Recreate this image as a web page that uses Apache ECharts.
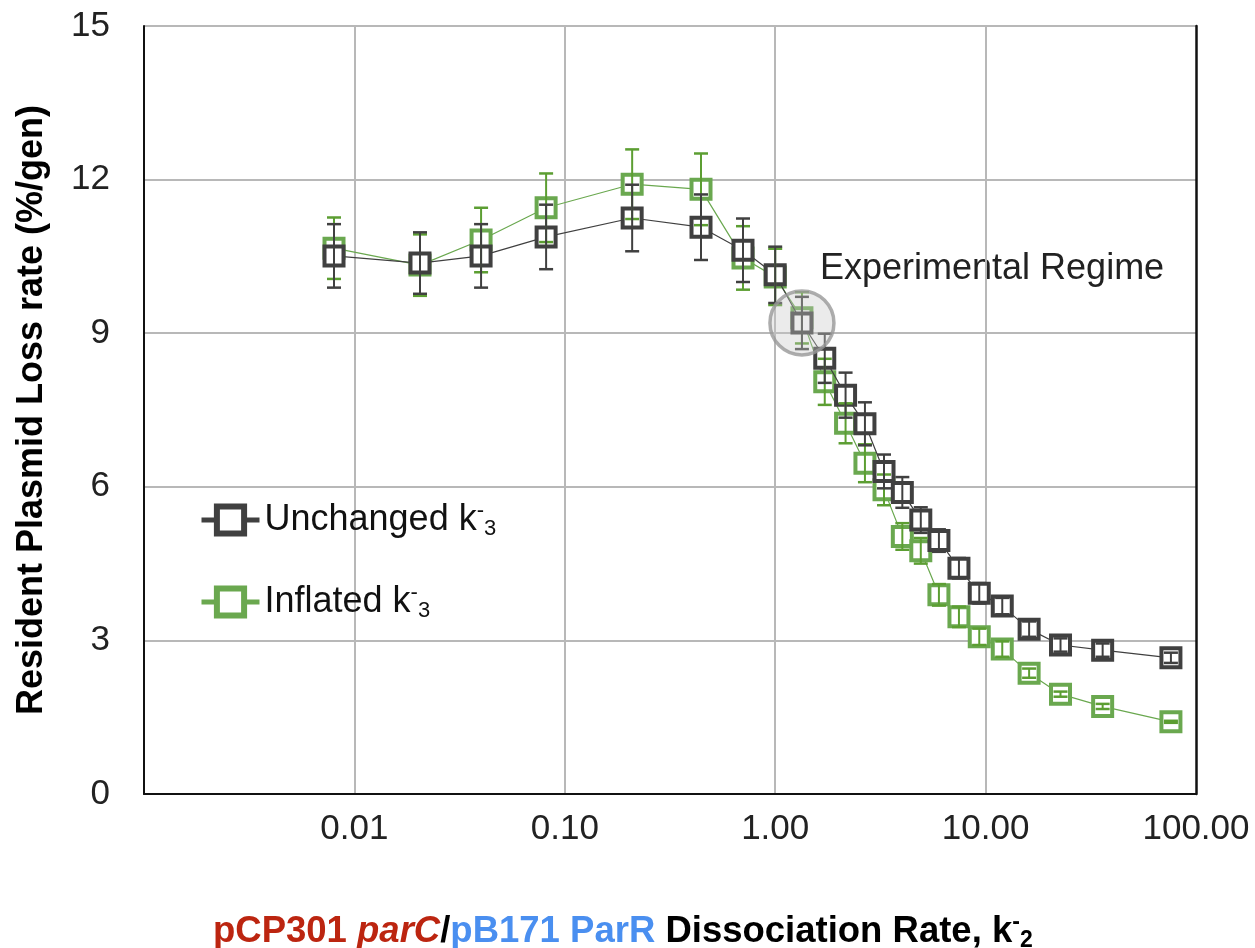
<!DOCTYPE html>
<html>
<head>
<meta charset="utf-8">
<script src="https://cdn.jsdelivr.net/npm/echarts@6/dist/echarts.min.js"></script>
<style>
  html, body { margin: 0; padding: 0; background: #fff; }
  #chart { width: 1255px; height: 948px; }
</style>
</head>
<body>
<div id="chart"></div>
<script>
// k-2 values (x), shared by both series
const rates = [0.008, 0.0205, 0.040, 0.0815, 0.209, 0.444, 0.703, 1.0, 1.34, 1.72, 2.16, 2.67,
  3.29, 4.02, 4.92, 6.0, 7.47, 9.33, 12.0, 16.1, 22.7, 36.0, 76.0];
const unchanged = [10.51, 10.37, 10.51, 10.88, 11.25, 11.07, 10.62, 10.14, 9.2, 8.51, 7.79, 7.23,
  6.30, 5.89, 5.35, 4.95, 4.41, 3.92, 3.67, 3.22, 2.91, 2.81, 2.66];
const unchangedErr = [0.62, 0.6, 0.62, 0.63, 0.65, 0.64, 0.62, 0.55, 0.51, 0.48, 0.44, 0.42,
  0.33, 0.3, 0.25, 0.22, 0.2, 0.2, 0.16, 0.15, 0.13, 0.13, 0.1];
const inflated = [10.66, 10.33, 10.82, 11.45, 11.91, 11.81, 10.47, 10.1, 9.3, 8.05, 7.24, 6.46,
  5.94, 5.03, 4.75, 3.89, 3.46, 3.07, 2.83, 2.36, 1.95, 1.71, 1.41];
const inflatedErr = [0.6, 0.6, 0.63, 0.67, 0.68, 0.7, 0.62, 0.55, 0.5, 0.45, 0.39, 0.37,
  0.3, 0.26, 0.25, 0.21, 0.2, 0.16, 0.15, 0.09, 0.05, 0.05, 0.02];
const regimePoint = [[1.34, 9.2]];
const xTicks = [0.01, 0.1, 1, 10, 100];

const FONT = "'Liberation Sans', Arial, sans-serif";
const DARK = '#404040';
const GREEN = '#6aa84f';
const GREEN_BAR = '#5c9e32';

function pairs(ys) {
  return rates.map((x, i) => [x, ys[i]]);
}
function bars(ys, errs) {
  return rates.map((x, i) => [x, ys[i] - errs[i], ys[i] + errs[i]]);
}
function errorRender(color) {
  return function (params, api) {
    const lo = api.coord([api.value(0), api.value(1)]);
    const hi = api.coord([api.value(0), api.value(2)]);
    const w = 7;
    return {
      type: 'group',
      children: [
        { type: 'line', shape: { x1: lo[0], y1: lo[1], x2: hi[0], y2: hi[1] }, style: { stroke: color, lineWidth: 2 } },
        { type: 'line', shape: { x1: lo[0] - w, y1: lo[1], x2: lo[0] + w, y2: lo[1] }, style: { stroke: color, lineWidth: 2.5 } },
        { type: 'line', shape: { x1: hi[0] - w, y1: hi[1], x2: hi[0] + w, y2: hi[1] }, style: { stroke: color, lineWidth: 2.5 } }
      ]
    };
  };
}

const chart = echarts.init(document.getElementById('chart'));
chart.setOption({
  animation: false,
  textStyle: { fontFamily: FONT },
  grid: { left: 144, right: 59, top: 26, bottom: 154 },
  legend: {
    orient: 'vertical',
    left: 194,
    top: 495,
    itemWidth: 58,
    itemHeight: 34,
    itemGap: 42,
    data: ['Unchanged', 'Inflated'],
    lineStyle: { width: 5 },
    itemStyle: { borderWidth: 6 },
    formatter: function (name) {
      return name + ' k{sup|-}{sub|3}';
    },
    textStyle: {
      fontSize: 36,
      color: '#111',
      fontFamily: FONT,
      rich: {
        sup: { fontSize: 22, verticalAlign: 'top', padding: [0, 0, 18, 0], color: '#111' },
        sub: { fontSize: 22, padding: [18, 0, 0, 0], color: '#111' }
      }
    }
  },
  xAxis: {
    type: 'log',
    logBase: 10,
    min: 0.001,
    max: 100,
    axisLine: { show: true, lineStyle: { color: '#111', width: 2 } },
    axisTick: { show: false },
    axisLabel: {
      fontSize: 35,
      color: '#222',
      margin: 18,
      formatter: function (v) {
        return xTicks.indexOf(+v.toPrecision(3)) >= 0 ? (+v).toFixed(2) : '';
      }
    },
    splitLine: { show: true, showMinLine: false, showMaxLine: false, lineStyle: { color: '#b8b8b8', width: 2 } }
  },
  yAxis: [{
    type: 'value',
    min: 0,
    max: 15,
    interval: 3,
    name: 'Resident Plasmid Loss rate (%/gen)',
    nameLocation: 'middle',
    nameGap: 94,
    nameTextStyle: { fontSize: 36, fontWeight: 'bold', color: '#000', fontFamily: FONT },
    axisLine: { show: true, lineStyle: { color: '#111', width: 2 } },
    axisTick: { show: false },
    axisLabel: { fontSize: 35, color: '#222', margin: 34 },
    splitLine: { show: true, showMinLine: false, showMaxLine: true, lineStyle: { color: '#b8b8b8', width: 2 } }
  }, {
    type: 'value',
    position: 'right',
    min: 0,
    max: 15,
    interval: 3,
    axisLine: { show: true, lineStyle: { color: '#111', width: 2.5 } },
    axisTick: { show: false },
    axisLabel: { show: false },
    splitLine: { show: false }
  }],
  graphic: [
    {
      type: 'text',
      left: 820,
      top: 251,
      style: { text: 'Experimental Regime', fontSize: 36, fill: '#222', fontFamily: FONT }
    },
    {
      type: 'text',
      left: 213,
      top: 911,
      style: {
        text: '{r|pCP301 }{ri|parC}{k|/}{b|pB171 ParR}{k| Dissociation Rate, k}{sup|-}{sub|2}',
        fontFamily: FONT,
        rich: {
          r: { fontSize: 36.5, fontWeight: 'bold', fill: '#bc2510', fontFamily: FONT },
          ri: { fontSize: 36.5, fontWeight: 'bold', fontStyle: 'italic', fill: '#bc2510', fontFamily: FONT },
          b: { fontSize: 36.5, fontWeight: 'bold', fill: '#4a8ff0', fontFamily: FONT },
          k: { fontSize: 36.5, fontWeight: 'bold', fill: '#000', fontFamily: FONT },
          sup: { fontSize: 23, fontWeight: 'bold', fill: '#000', padding: [0, 0, 18, 0], verticalAlign: 'top', fontFamily: FONT },
          sub: { fontSize: 23, fontWeight: 'bold', fill: '#000', padding: [18, 0, 0, 0], fontFamily: FONT }
        }
      }
    }
  ],
  series: [
    {
      name: 'Inflated',
      type: 'line',
      z: 2,
      data: pairs(inflated),
      symbol: 'rect',
      symbolSize: 19,
      itemStyle: { color: '#fff', borderColor: GREEN, borderWidth: 4 },
      lineStyle: { color: GREEN, width: 1.2 }
    },
    {
      name: 'Unchanged',
      type: 'line',
      z: 3,
      data: pairs(unchanged),
      symbol: 'rect',
      symbolSize: 19,
      itemStyle: { color: '#fff', borderColor: DARK, borderWidth: 4 },
      lineStyle: { color: DARK, width: 1.2 }
    },
    {
      name: 'InflatedErr',
      type: 'custom',
      z: 4,
      data: bars(inflated, inflatedErr),
      renderItem: errorRender(GREEN_BAR),
      encode: { x: 0, y: [1, 2] },
      silent: true
    },
    {
      name: 'UnchangedErr',
      type: 'custom',
      z: 5,
      data: bars(unchanged, unchangedErr),
      renderItem: errorRender(DARK),
      encode: { x: 0, y: [1, 2] },
      silent: true
    },
    {
      name: 'Regime',
      type: 'scatter',
      z: 6,
      data: regimePoint,
      symbol: 'circle',
      symbolSize: 64,
      itemStyle: { color: 'rgba(200,200,200,0.45)', borderColor: '#999', borderWidth: 3.5 },
      silent: true
    }
  ]
});
</script>
</body>
</html>
